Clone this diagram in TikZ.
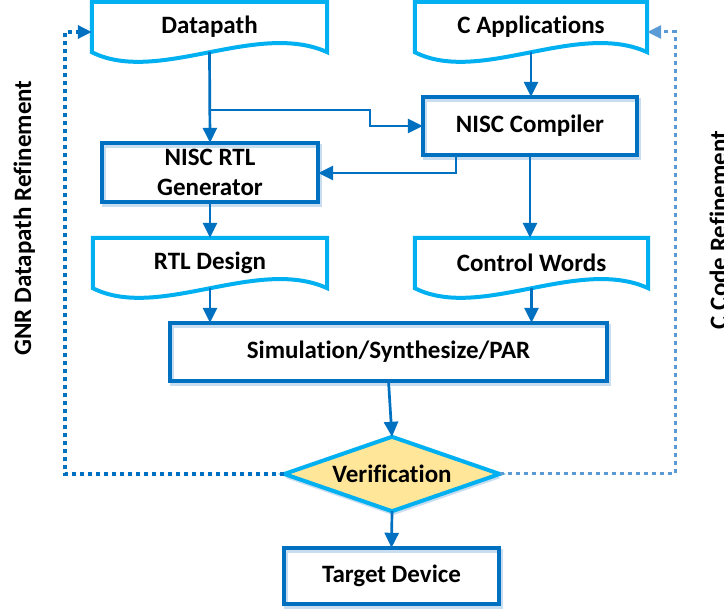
\documentclass[tikz,border=0pt]{standalone}
\usepackage{fontspec}
\setmainfont{Carlito}[Ligatures=NoCommon]
\usetikzlibrary{arrows.meta,calc}
\definecolor{dblue}{HTML}{0070C0}
\definecolor{lblue}{HTML}{00B0F0}
\definecolor{mblue}{HTML}{5B9BD5}
\definecolor{shblue}{HTML}{C9DDF1}
\definecolor{yfill}{HTML}{FFE699}
\pgfdeclarelayer{bg}
\pgfsetlayers{bg,main}
\newcommand\mydocshape[1]{%
  \draw[docline] (#1.south west) -- (#1.north west) -- (#1.north east) -- (#1.south east)
    .. controls ($(#1.south west)!0.7!(#1.south east)+(0,-32)$) and ($(#1.south west)!0.28!(#1.south east)+(0,33)$) .. (#1.south west) -- cycle;}
\newcommand\myboxshape[1]{%
  \draw[shadowline] ([shift={(2,3)}]#1.north west) rectangle ([shift={(2,3)}]#1.south east);
  \draw[boxline] (#1.north west) rectangle (#1.south east);}
\begin{document}
\begin{tikzpicture}[x=1pt,y=-1pt,
  txt/.style={font=\fontsize{25}{30}\selectfont\bfseries, inner sep=0pt, align=center, text=black},
  docline/.style={draw=lblue, line width=4pt, fill=white},
  boxline/.style={draw=dblue, line width=4pt},
  shadowline/.style={draw=shblue, line width=4pt},
  arr/.style={draw=dblue, line width=2.7pt, -{Triangle[length=15pt,width=14pt]}},
  dotl/.style={draw=dblue, line width=3.2pt, dash pattern=on 4pt off 4pt, -{Triangle[length=14pt,width=13pt]}},
  dotr/.style={draw=mblue, line width=3pt, dash pattern=on 4pt off 4pt, -{Triangle[length=14pt,width=13pt]}}]
\useasboundingbox (0,0) rectangle (724,612);

% nodes
\node[txt, minimum width=235pt, minimum height=50pt] (dp) at (209.5,27) {Datapath};
\node[txt, minimum width=232pt, minimum height=50pt] (capp) at (531,27) {C Applications};
\node[txt, minimum width=214pt, minimum height=58pt] (comp) at (530,126) {NISC Compiler};
\node[txt, minimum width=216pt, minimum height=59pt] (gen) at (210,172.5) {NISC RTL\\Generator};
\node[txt, minimum width=234pt, minimum height=50pt] (rtl) at (210,263) {RTL Design};
\node[txt, minimum width=233pt, minimum height=50pt] (cw) at (531.5,263) {Control Words};
\node[txt, minimum width=437pt, minimum height=58pt] (sim) at (388.5,352) {Simulation/Synthesize/PAR};
\node[txt, minimum width=215pt, minimum height=74pt] (ver) at (392,474) {Verification};
\node[txt, minimum width=215pt, minimum height=56pt] (tgt) at (391.5,576) {Target Device};
\node[txt, rotate=90, anchor=base] (lt) at (31,218) {GNR Datapath Refinement};
\node[txt, rotate=90, anchor=base] (rt) at (727,230) {C Code Refinement};

% shapes
\begin{pgfonlayer}{bg}
\fill[white] (0,0) rectangle (724,612);
\mydocshape{dp}
\mydocshape{capp}
\mydocshape{rtl}
\mydocshape{cw}
\myboxshape{comp}
\myboxshape{gen}
\myboxshape{sim}
\myboxshape{tgt}
\fill[shblue] ([shift={(1,4)}]ver.west) -- ([shift={(1,4)}]ver.north) -- ([shift={(1,4)}]ver.east) -- ([shift={(1,4)}]ver.south) -- cycle;
\draw[draw=lblue, line width=4pt, fill=yfill, line join=miter] (ver.west) -- (ver.north) -- (ver.east) -- (ver.south) -- cycle;
\end{pgfonlayer}

% connectors
\coordinate (bk) at (370,110);
\coordinate (ck) at (456,173);
\coordinate (lfb) at (65,32);
\coordinate (rfb) at (675,32);
\draw[arr] (dp.south) -- (gen.north);
\draw[arr] (bk -| dp.south) -- (bk) |- (comp.west);
\draw[arr] (capp.south) -- (capp.south |- comp.north);
\draw[arr] (ck |- comp.south) -- (ck) -- (ck -| gen.east);
\draw[arr] (comp.south) -- (comp.south |- cw.north);
\draw[arr] (gen.south) -- (rtl.north);
\draw[arr] (rtl.south) -- (rtl.south |- sim.north);
\draw[arr] (cw.south) -- (cw.south |- sim.north);
\draw[arr] (sim.south) -- (ver.north);
\draw[arr] (ver.south) -- (tgt.north);
\draw[dotl] (ver.west) -- (ver.west -| lfb) -- (lfb) -- (lfb -| dp.west);
\draw[dotr] (ver.east) -- (ver.east -| rfb) -- (rfb) -- (rfb -| capp.east);
\end{tikzpicture}
\end{document}
